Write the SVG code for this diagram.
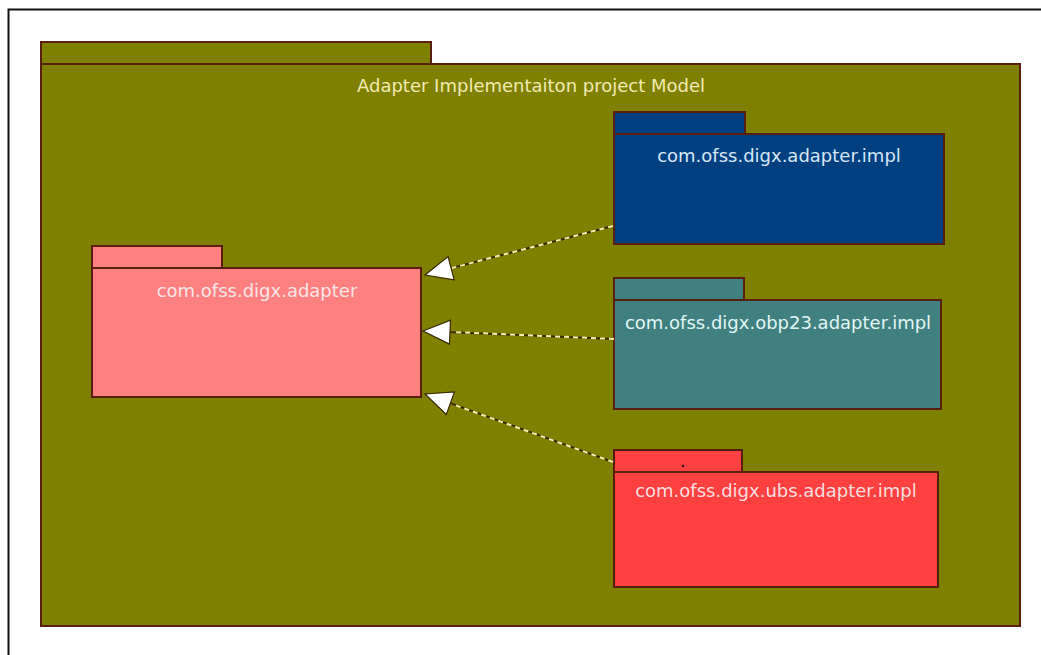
<svg xmlns="http://www.w3.org/2000/svg" width="1041" height="655" viewBox="0 0 1041 655">
<style>
  .pkg { stroke: #5a1e0e; stroke-width: 2; }
  .lbl { font-family: "DejaVu Sans", "Liberation Sans", sans-serif; font-size: 18px; text-anchor: middle; }
  .dep-dark { fill: none; stroke: #3a2a00; stroke-width: 2; }
  .dep-light { fill: none; stroke: #f4f0a8; stroke-width: 2; stroke-dasharray: 5 4; }
</style>
<defs>
  <marker id="hollow" viewBox="0 0 30 26" refX="28" refY="13" markerWidth="30" markerHeight="26" markerUnits="userSpaceOnUse" orient="auto">
    <path d="M1,1 L28,13 L1,25 Z" fill="#ffffff" stroke="#3a2a00" stroke-width="1.2"/>
  </marker>
</defs>
<rect width="1041" height="655" fill="#ffffff"/>
<path d="M8.5,660 L8.5,9.5 L1050,9.5" fill="none" stroke="#111111" stroke-width="2"/>

<g id="model">
  <rect class="pkg" x="41" y="42" width="390" height="22" fill="#808000"/>
  <rect class="pkg" x="41" y="64" width="979" height="562" fill="#808000"/>
  <text class="lbl" x="531" y="92" fill="#f2ebb0">Adapter Implementaiton project Model</text>
</g>

<g id="adapter">
  <rect class="pkg" x="92" y="246" width="130" height="22" fill="#ff8080" stroke="#8a1a0e"/>
  <rect class="pkg" x="92" y="268" width="329" height="129" fill="#ff8080" stroke="#8a1a0e"/>
  <text class="lbl" x="257" y="297" fill="#f8e6e6">com.ofss.digx.adapter</text>
</g>

<g id="adapter-impl">
  <rect class="pkg" x="614" y="112" width="131" height="22" fill="#004080" stroke="#3a1e1e"/>
  <rect class="pkg" x="614" y="134" width="330" height="110" fill="#004080" stroke="#3a1e1e"/>
  <text class="lbl" x="779" y="162" fill="#d4e8f6">com.ofss.digx.adapter.impl</text>
</g>

<g id="obp23-adapter-impl">
  <rect class="pkg" x="614" y="278" width="130" height="22" fill="#408080" stroke="#3a1e1e"/>
  <rect class="pkg" x="614" y="300" width="327" height="109" fill="#408080" stroke="#3a1e1e"/>
  <text class="lbl" x="778" y="329" fill="#e0f6f6">com.ofss.digx.obp23.adapter.impl</text>
</g>

<g id="ubs-adapter-impl">
  <rect class="pkg" x="614" y="450" width="128" height="22" fill="#ff4040" stroke="#8a1a0e"/>
  <rect class="pkg" x="614" y="472" width="324" height="115" fill="#ff4040" stroke="#8a1a0e"/>
  <circle cx="683" cy="466" r="1.2" fill="#3a0a0a"/>
  <text class="lbl" x="776" y="497" fill="#f8dede">com.ofss.digx.ubs.adapter.impl</text>
</g>

<g id="connectors">
  <line class="dep-dark" x1="613" y1="226" x2="425" y2="275" marker-end="url(#hollow)"/>
  <line class="dep-light" x1="613" y1="226" x2="452" y2="268"/>
  <line class="dep-dark" x1="614" y1="339" x2="423" y2="331" marker-end="url(#hollow)"/>
  <line class="dep-light" x1="614" y1="339" x2="452" y2="332"/>
  <line class="dep-dark" x1="613" y1="462" x2="425" y2="394" marker-end="url(#hollow)"/>
  <line class="dep-light" x1="613" y1="462" x2="452" y2="404"/>
</g>
</svg>
